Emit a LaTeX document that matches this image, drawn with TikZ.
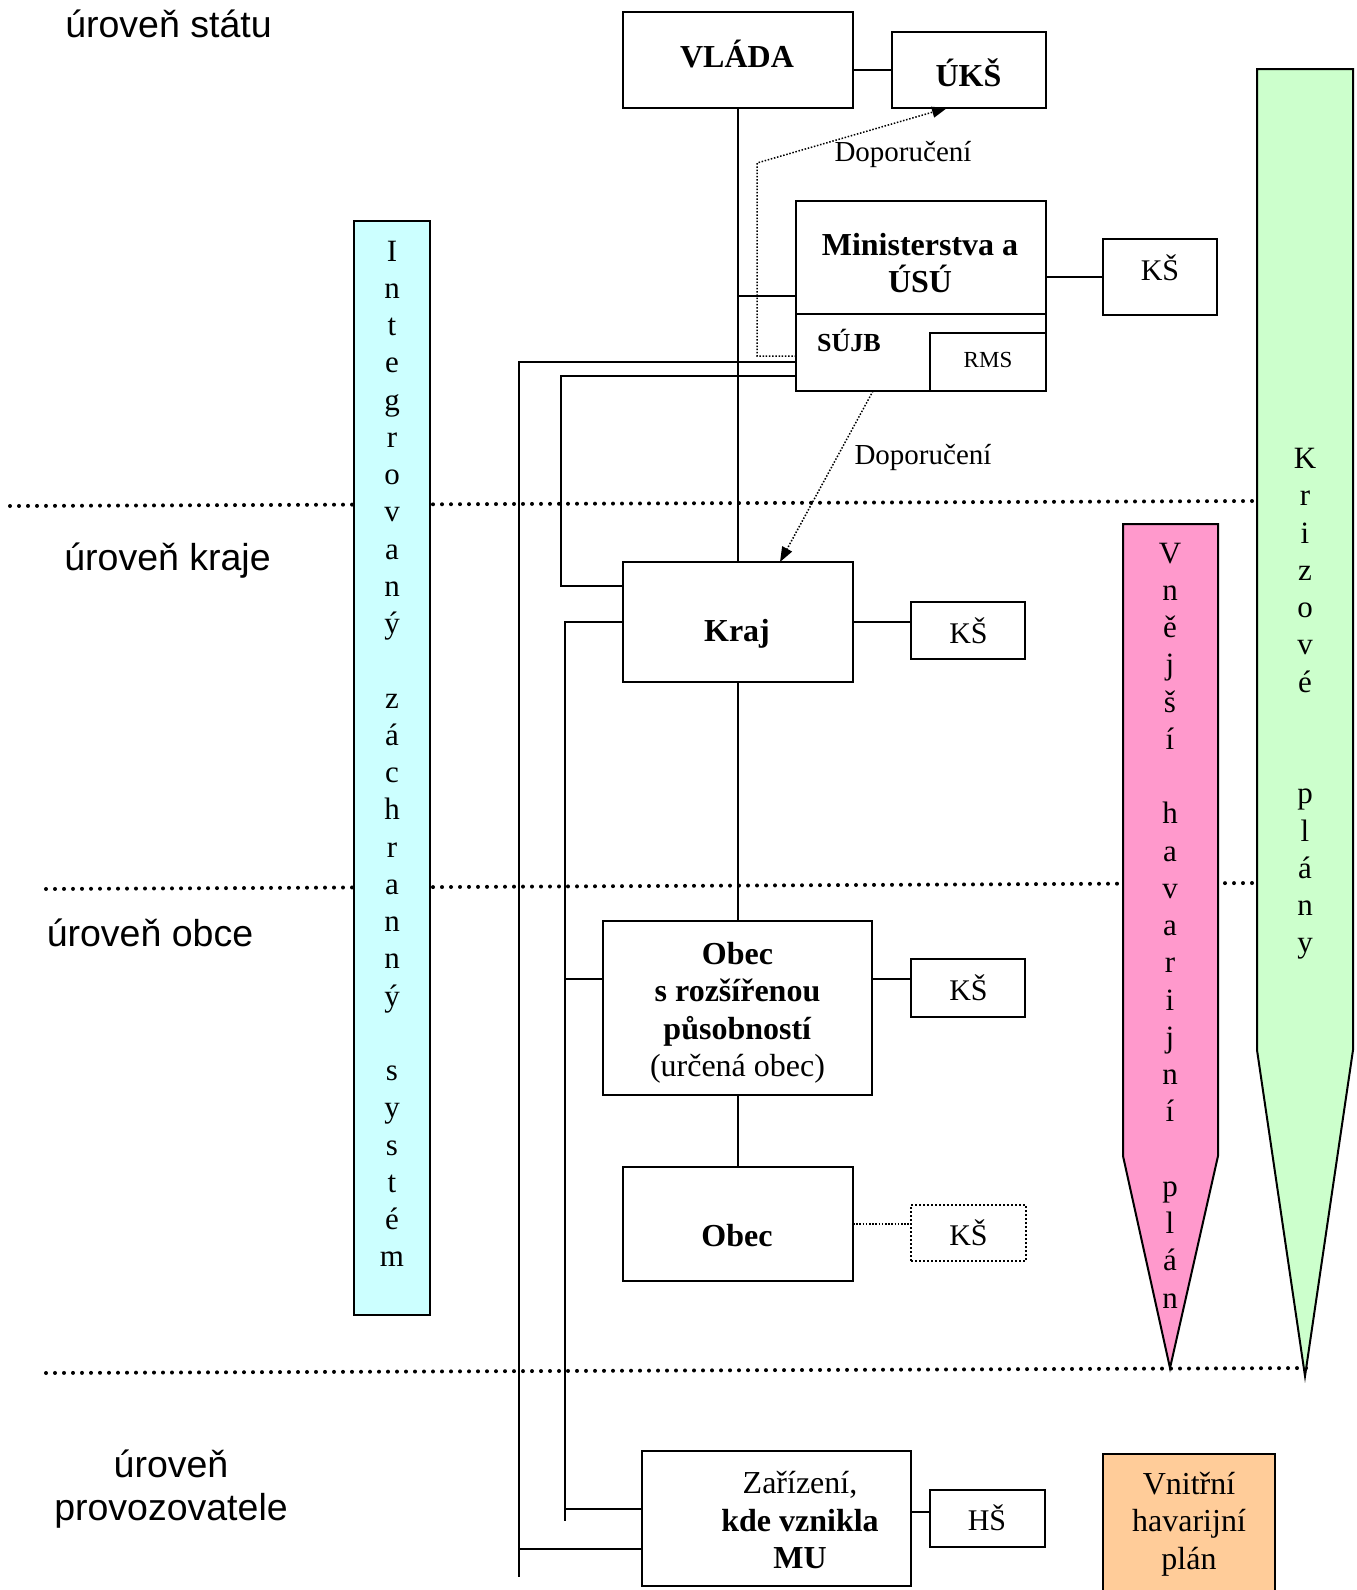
\documentclass[tikz,border=0pt]{standalone}
\usepackage{fontspec}
\setmainfont{Liberation Serif}
\newfontfamily\arialfont{Liberation Sans}
\usetikzlibrary{arrows.meta,calc}
\definecolor{izsfill}{HTML}{CCFFFF}
\definecolor{krizfill}{HTML}{CCFFCC}
\definecolor{vnejfill}{HTML}{FF99CC}
\definecolor{vnitfill}{HTML}{FFCC99}
\begin{document}
\begin{tikzpicture}[x=1pt,y=-1pt,
  box/.style={draw,line width=2.5pt,inner sep=0pt,outer sep=0pt},
  dotbox/.style={draw,line width=2pt,dash pattern=on 2pt off 2pt,inner sep=0pt,outer sep=0pt},
  conn/.style={line width=2pt},
  thinconn/.style={line width=1.5pt},
  fdot/.style={line width=1.5pt,dash pattern=on 1.5pt off 1.7pt},
  tip/.style={-{Triangle[length=15pt,width=11pt]}},
  level/.style={line width=4pt,line cap=round,dash pattern=on 0pt off 9pt},
  tb/.style={font=\fontsize{32}{37.5}\selectfont\bfseries,align=center,inner sep=0pt},
  tr/.style={font=\fontsize{32}{37.5}\selectfont,align=center,inner sep=0pt},
  tks/.style={font=\fontsize{30}{36}\selectfont,inner sep=0pt},
  tdop/.style={font=\fontsize{29}{34}\selectfont,inner sep=0pt},
  vlet/.style={font=\fontsize{31}{37.25}\selectfont,anchor=base,inner sep=0pt},
  lvl/.style={font=\arialfont\fontsize{37.5}{43.5}\selectfont,anchor=base,inner sep=0pt}
]
\useasboundingbox (0,0) rectangle (1357,1590);

% level lines
\draw[level] (10,506) -- (1255,501);
\draw[level] (46,889) -- (1255,883);
\draw[level] (46,1373) -- (1313,1368);

% level labels
\node[lvl] (lstat) at (168.5,37) {úroveň státu};
\node[lvl] (lkraj) at (167.5,570) {úroveň kraje};
\node[lvl] (lobec) at (150,946) {úroveň obce};
\node[lvl] (lprov) at (171,1477) {\begin{tabular}[t]{@{}c@{}}úroveň\\provozovatele\end{tabular}};

% side bars
\node[box,line width=2pt,fill=izsfill,minimum width=76pt,minimum height=1094pt] (izs) at (392,768) {};
\node[vlet] (izstext) at (392,261) {\begin{tabular}[t]{@{}c@{}}I\\n\\t\\e\\g\\r\\o\\v\\a\\n\\ý\\ \\z\\á\\c\\h\\r\\a\\n\\n\\ý\\ \\s\\y\\s\\t\\é\\m\end{tabular}};

\draw[line width=2pt,fill=krizfill] (1257,69) -- (1353,69) -- (1353,1050) -- (1305,1376) -- (1257,1050) -- cycle;
\node[vlet] (kriztext) at (1305,468.5) {\begin{tabular}[t]{@{}c@{}}K\\r\\i\\z\\o\\v\\é\\ \\ \\p\\l\\á\\n\\y\end{tabular}};

\draw[line width=2pt,fill=vnejfill] (1123,524) -- (1218,524) -- (1218,1156) -- (1170,1368) -- (1123,1156) -- cycle;
\node[vlet] (vnejtext) at (1170,563) {\begin{tabular}[t]{@{}c@{}}V\\n\\ě\\j\\š\\í\\ \\h\\a\\v\\a\\r\\i\\j\\n\\í\\ \\p\\l\\á\\n\end{tabular}};

% boxes
\node[box,minimum width=230pt,minimum height=96pt] (vlada) at (738,60) {};
\node[box,minimum width=154pt,minimum height=76pt] (uks) at (969,70) {};
\node[box,minimum width=250pt,minimum height=190pt] (mini) at (921,296) {};
\node[box,minimum width=116pt,minimum height=58pt] (rms) at (988,362) {};
\node[box,minimum width=114pt,minimum height=76pt] (ks1) at (1160,277) {};
\node[box,minimum width=230pt,minimum height=120pt] (kraj) at (738,622) {};
\node[box,minimum width=114pt,minimum height=57pt] (ksk) at (968,630.5) {};
\node[box,minimum width=269pt,minimum height=174pt] (obr) at (737.5,1008) {};
\node[box,minimum width=114pt,minimum height=58pt] (ksb) at (968,988) {};
\node[box,minimum width=230pt,minimum height=114pt] (obec) at (738,1224) {};
\node[dotbox,minimum width=115pt,minimum height=56pt] (ksc) at (968.5,1233) {};
\node[box,minimum width=269pt,minimum height=135pt] (zar) at (776.5,1518.5) {};
\node[box,minimum width=115pt,minimum height=57pt] (hs) at (987.5,1518.5) {};
\node[box,fill=vnitfill,minimum width=172pt,minimum height=138pt] (vhp) at (1189,1523) {};

% divider inside Ministerstva box
\draw[box] ([yshift=-113pt]mini.north west) -- ([yshift=-113pt]mini.north east);

% texts in boxes
\node[tb] (tvlada) at (737,54) {VLÁDA};
\node[tb] (tuks) at (968.5,73) {ÚKŠ};
\node[tb] (tmini) at (920,263) {Ministerstva a\\ÚSÚ};
\node[font=\fontsize{26}{30}\selectfont\bfseries,inner sep=0pt] (tsujb) at (849,340) {SÚJB};
\node[font=\fontsize{23}{27}\selectfont,inner sep=0pt] (trms) at (988,360) {RMS};
\node[tks] (tks1) at (1160,268) {KŠ};
\node[tb] (tkraj) at (737,634) {Kraj};
\node[tks] (tksk) at (968.5,631) {KŠ};
\node[tr] (tobr) at (737.5,1013) {\textbf{Obec}\\\textbf{s rozšířenou}\\\textbf{působností}\\(určená obec)};
\node[tks] (tksb) at (968.5,988) {KŠ};
\node[tb] (tobec) at (737,1236) {Obec};
\node[tks] (tksc) at (968.5,1233) {KŠ};
\node[tr] (tzar) at (800,1520) {Zařízení,\\\textbf{kde vznikla}\\\textbf{MU}};
\node[tks] (ths) at (987,1518) {HŠ};
\node[tr] (tvhp) at (1189,1524) {Vnitřní\\havarijní\\plán};

% connectors
\draw[conn] (vlada.south) -- (kraj.north);
\draw[conn] (vlada.east |- uks.west) -- (uks.west);
\draw[conn] (vlada.south |- mini.west) -- (mini.west);
\draw[conn] (mini.east |- ks1.west) -- (ks1.west);
\draw[conn] (kraj.east) -- (kraj.east -| ksk.west);
\draw[conn] (kraj.south) -- (kraj.south |- obr.north);
\draw[conn] (obr.south) -- (obr.south |- obec.north);
\coordinate (ce) at (565,979);
\draw[conn] (obr.east |- ce) -- (ksb.west |- ce);
\draw[fdot] (obec.east) -- (obec.east -| ksc.west);
\draw[conn] ([yshift=7pt]zar.east) -- ([yshift=7pt]zar.east -| hs.west);

% Doporučení arrows
\coordinate (dpa) at (757,163);
\draw[fdot,tip] ([yshift=-60pt]mini.west) -| (dpa) -- ([xshift=55pt]uks.south west);
\node[tdop] (dop1) at (903,154) {Doporučení};
\draw[fdot,tip] ([xshift=77pt]mini.south west) -- ([xshift=157pt]kraj.north west);
\node[tdop] (dop2) at (923,457) {Doporučení};

% lines from SÚJB downwards
\coordinate (ca) at (519,1577);
\draw[conn] ([yshift=-66pt]mini.west) -| (ca);
\coordinate (cb) at (519,1549);
\draw[thinconn] (cb) -- (cb -| zar.west);
\coordinate (cc) at (561,586);
\draw[conn] ([yshift=-80pt]mini.west) -| (cc) -- (cc -| kraj.west);
\coordinate (cd) at (565,1521);
\draw[conn] (kraj.west) -| (cd);
\draw[conn] (ce) -- (ce -| obr.west);
\coordinate (cf) at (565,1509);
\draw[thinconn] (cf) -- (cf -| zar.west);
\end{tikzpicture}
\end{document}
